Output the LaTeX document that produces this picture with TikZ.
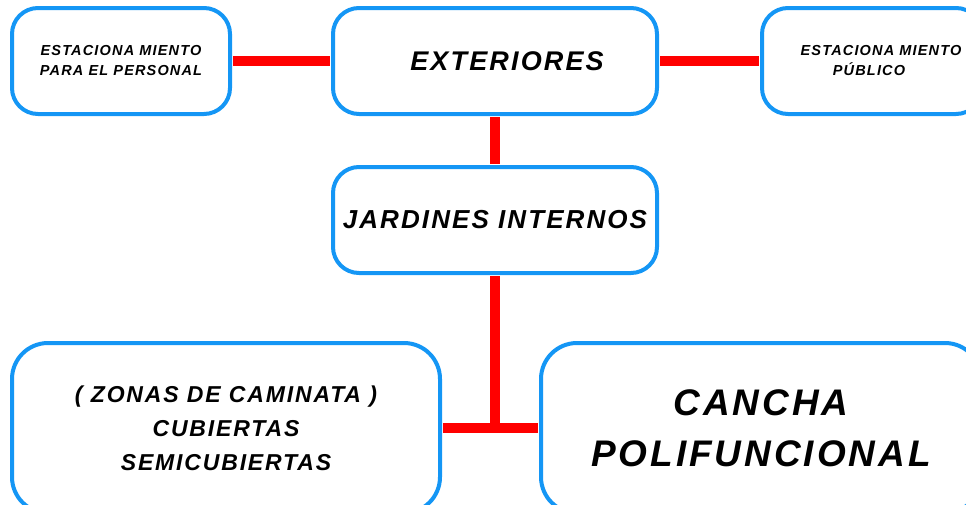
\documentclass[tikz,border=0pt]{standalone}
\usepackage{fontspec}
\setmainfont{Liberation Sans}
\newfontfamily\boxfont[LetterSpace=8]{Liberation Sans}
\definecolor{boxblue}{RGB}{20,150,245}
\definecolor{linkred}{RGB}{255,0,0}
\tikzset{
  area/.style={draw=boxblue, line width=4pt, fill=white, rounded corners=26pt,
    align=center, inner sep=0pt},
  bigarea/.style={area, rounded corners=36pt},
  link/.style={draw=linkred, line width=10pt, shorten >=1pt, shorten <=1pt}
}
\begin{document}
\begin{tikzpicture}[x=1pt, y=-1pt]
                \useasboundingbox (0,0) rectangle (966,504);
                \clip (0,0) rectangle (966,504);
                % Top row
                \node[area, minimum width=218pt, minimum height=106pt,
                    font=\boxfont\bfseries\itshape\fontsize{14.5}{20}\selectfont] (estper) at (121,61)
                    {ESTACIONA MIENTO\\ PARA EL PERSONAL};
                \node[area, minimum width=324pt, minimum height=106pt,
                    font=\boxfont\bfseries\itshape\fontsize{27}{32}\selectfont] (ext) at (495,61)
                    {\hspace*{24pt}EXTERIORES};
                \node[area, minimum width=220pt, minimum height=106pt,
                    font=\boxfont\bfseries\itshape\fontsize{14.5}{20}\selectfont] (estpub) at (872,61)
                    {\hspace*{18pt}ESTACIONA MIENTO\\ PÚBLICO\hspace*{6pt}};
                % Middle
                \node[area, minimum width=324pt, minimum height=106pt,
                    font=\boxfont\bfseries\itshape\fontsize{26}{30}\selectfont] (jard) at (495,220)
                    {JARDINES INTERNOS};
                % Bottom row
                \node[bigarea, minimum width=428pt, minimum height=170pt,
                    font=\boxfont\bfseries\itshape\fontsize{23}{34}\selectfont] (zonas) at (226,428)
                    {( ZONAS DE CAMINATA )\\ CUBIERTAS\\ SEMICUBIERTAS};
                \node[bigarea, minimum width=440pt, minimum height=170pt,
                    font=\boxfont\bfseries\itshape\fontsize{37}{51}\selectfont] (cancha) at (761,428)
                    {CANCHA\\ POLIFUNCIONAL};
                % Connectors
                \draw[link] (estper) -- (ext);
                \draw[link] (ext) -- (estpub);
                \draw[link] (ext.south) -- (jard.north);
                \draw[link, shorten >=0pt] (jard.south) -- (jard.south |- zonas.east);
                \draw[link] (zonas.east) -- (cancha.west);
            \end{tikzpicture}
\end{document}
